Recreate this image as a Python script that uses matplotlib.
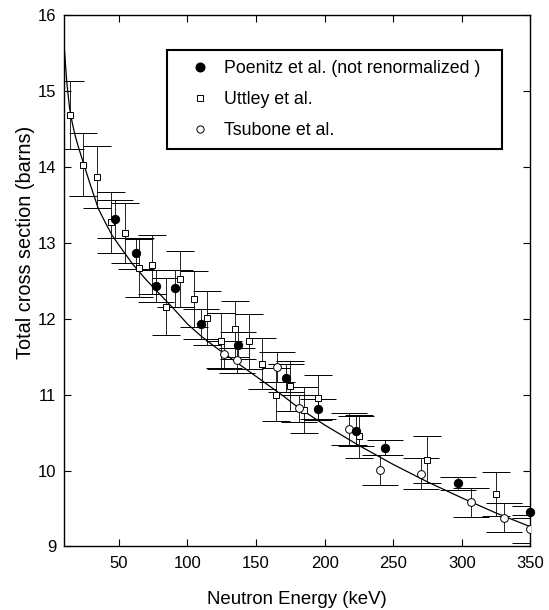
import matplotlib
matplotlib.use("Agg")
import matplotlib.pyplot as plt
from matplotlib.lines import Line2D

plt.rcParams['font.family'] = ['Liberation Sans', 'DejaVu Sans']

# Poenitz et al. (not renormalized)
poenitz_E = [47.1, 62.2, 77.0, 91.2, 110.2, 136.6, 171.7, 194.9, 222.9, 244.0, 297.0, 350.0]
poenitz_sigma = [13.31, 12.86, 12.43, 12.40, 11.93, 11.65, 11.22, 10.81, 10.52, 10.30, 9.83, 9.45]
poenitz_err = [0.25, 0.20, 0.21, 0.24, 0.20, 0.18, 0.18, 0.13, 0.20, 0.10, 0.09, 0.08]

# Uttley et al.
uttley_E = [14.0, 24.2, 34.1, 44.0, 54.2, 64.3, 74.4, 84.3, 94.4, 104.4, 114.5, 124.5,
            134.6, 144.5, 154.4, 164.6, 174.4, 184.9, 194.9, 224.9, 274.8, 325.0]
uttley_sigma = [14.68, 14.03, 13.87, 13.27, 13.13, 12.67, 12.71, 12.16, 12.52, 12.26, 12.01, 11.71,
                11.86, 11.70, 11.41, 11.00, 11.11, 10.80, 10.96, 10.45, 10.14, 9.69]
uttley_err = [0.45, 0.42, 0.41, 0.40, 0.40, 0.38, 0.39, 0.37, 0.37, 0.37, 0.36, 0.37,
              0.37, 0.36, 0.34, 0.35, 0.33, 0.30, 0.30, 0.28, 0.31, 0.29]

# Tsubone et al.
tsubone_E = [126.8, 136.1, 165.1, 181.6, 217.5, 240.2, 270.4, 306.3, 330.4, 349.5]
tsubone_sigma = [11.53, 11.45, 11.36, 10.82, 10.55, 10.01, 9.96, 9.58, 9.38, 9.23]
tsubone_err = [0.18, 0.17, 0.20, 0.18, 0.21, 0.20, 0.20, 0.19, 0.19, 0.18]

# Evaluated total cross section curve
curve_E = [10, 12, 14, 16, 18, 20, 25, 30, 35, 40, 45, 50, 60, 70, 80, 90, 100, 110, 120,
           130, 140, 150, 160, 170, 180, 190, 200, 225, 250, 275, 300, 325, 350]
curve_sigma = [15.62, 15.12, 14.78, 14.58, 14.42, 14.29, 14.00, 13.72, 13.45, 13.27, 13.10, 12.97,
               12.72, 12.51, 12.32, 12.13, 11.93, 11.77, 11.63, 11.50, 11.37, 11.24, 11.11,
               10.98, 10.84, 10.72, 10.60, 10.33, 10.08, 9.85, 9.64, 9.44, 9.26]

x_ticks = [50, 100, 150, 200, 250, 300, 350]
y_ticks = [9, 10, 11, 12, 13, 14, 15, 16]

fig = plt.figure(figsize=(5.49, 6.10), dpi=100)
ax = fig.add_axes([0.1166, 0.1041, 0.8497, 0.8713])

ax.plot(curve_E, curve_sigma, color='black', lw=0.9, zorder=2)

ebar_kw = dict(ecolor='black', elinewidth=0.6, capthick=0.6, linestyle='none', zorder=3)
ax.errorbar(uttley_E, uttley_sigma, yerr=uttley_err, fmt='s', ms=4.6, mfc='white',
            mec='black', mew=0.7, capsize=10, **ebar_kw)
ax.errorbar(tsubone_E, tsubone_sigma, yerr=tsubone_err, fmt='o', ms=5.6, mfc='white',
            mec='black', mew=0.7, capsize=13, **ebar_kw)
pe = ax.errorbar(poenitz_E, poenitz_sigma, yerr=poenitz_err, fmt='o', ms=6.0, mfc='black',
                 mec='black', mew=0.7, capsize=13, **ebar_kw)
pe[0].set_clip_on(False)

ax.set_xlim(10, 350)
ax.set_ylim(9, 16)
ax.set_xticks(x_ticks)
ax.set_yticks(y_ticks)
ax.tick_params(direction='in', top=True, right=True, length=5, width=0.8,
               labelsize=12, pad=5.5)
ax.tick_params(axis='x', pad=6.5)
for s in ax.spines.values():
    s.set_linewidth(1.0)

ax.set_xlabel('Neutron Energy (keV)', fontsize=13.4)
ax.set_ylabel('Total cross section (barns)', fontsize=14.3)
ax.xaxis.set_label_coords(0.5, -0.083)
ax.yaxis.set_label_coords(-0.062, 0.573)

handles = [
    Line2D([], [], ls='none', marker='o', ms=6.2, mfc='black', mec='black'),
    Line2D([], [], ls='none', marker='s', ms=4.6, mfc='white', mec='black', mew=0.7),
    Line2D([], [], ls='none', marker='o', ms=5.2, mfc='white', mec='black', mew=0.7),
]
labels = ['Poenitz et al. (not renormalized )', 'Uttley et al.', 'Tsubone et al.']
leg = ax.legend(handles, labels, loc='upper left', bbox_to_anchor=(0.221, 0.752, 0.718, 0.182),
                mode='expand', fontsize=12.8, frameon=True, fancybox=False, borderpad=0.55,
                labelspacing=0.8, handlelength=2.55, handletextpad=0.1, borderaxespad=0)
leg.get_frame().set_edgecolor('black')
leg.get_frame().set_linewidth(1.5)
leg.get_frame().set_alpha(1)

fig.savefig('out.png', dpi=100)
